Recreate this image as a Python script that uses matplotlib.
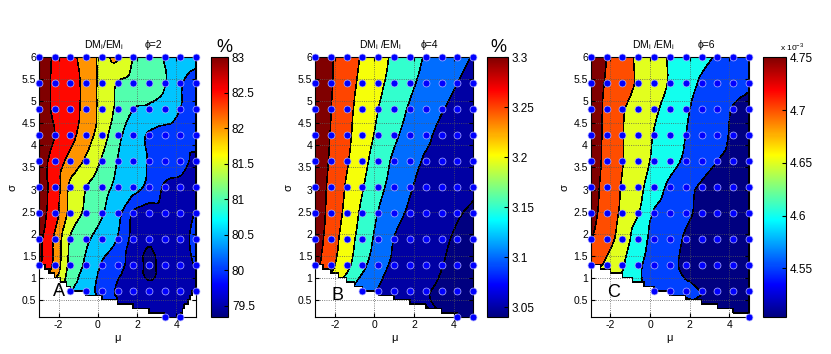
import numpy as np
import matplotlib
matplotlib.use('Agg')
import matplotlib.pyplot as plt
import matplotlib.tri as mtri
from matplotlib.colors import Normalize, LinearSegmentedColormap
from matplotlib.cm import ScalarMappable
from matplotlib.ticker import FormatStrFormatter

plt.rcParams['font.family'] = ['Liberation Sans', 'DejaVu Sans']
plt.rcParams['axes.unicode_minus'] = False
plt.rcParams['mathtext.fontset'] = 'custom'
plt.rcParams['mathtext.rm'] = 'Liberation Sans'

nan = np.nan

# sample grid (rows listed from sigma=6 down to sigma=0.1)
mu = [-3.0, -2.2, -1.4, -0.6, 0.2, 1.0, 1.8, 2.6, 3.4, 4.2, 5.0]
sigma = [6.00, 5.41, 4.82, 4.23, 3.64, 3.05, 2.46, 1.87, 1.28, 0.69, 0.10]

# phi = 2, percent
ratio_phi2 = [
    [83.25, 82.94, 82.65, 82.27, 81.92, 82.05, 81.50, 81.24, 80.98, 80.80, 80.70],
    [83.20, 82.93, 82.68, 82.36, 81.86, 81.48, 81.32, 81.17, 81.02, 80.55, 80.30],
    [83.20, 82.93, 82.68, 82.35, 81.83, 81.40, 81.00, 80.93, 80.85, 80.50, 80.30],
    [83.30, 83.00, 82.65, 82.22, 81.75, 81.13, 80.75, 80.45, 80.30, 80.20, 80.20],
    [83.20, 82.82, 82.32, 81.92, 81.45, 80.99, 80.73, 80.47, 80.30, 80.15, 79.90],
    [83.20, 82.80, 81.90, 81.51, 81.18, 80.90, 80.68, 80.39, 79.95, 79.90, 79.90],
    [83.20, 82.72, 81.84, 81.40, 81.04, 80.65, 79.95, 79.75, 79.85, 79.85, 80.02],
    [83.15, 82.42, 81.45, 81.09, 80.78, 80.48, 79.85, 79.55, 79.80, 79.90, 80.08],
    [83.10, 82.37, 81.35, 80.92, 80.46, 80.13, 79.85, 79.40, 79.70, 79.80, 80.03],
    [nan, nan, 81.05, 80.75, 80.30, 79.95, 79.80, 79.60, 79.70, 79.70, 79.80],
    [nan, nan, nan, nan, nan, nan, nan, nan, 79.70, 79.70, nan],
]

# phi = 4, percent
ratio_phi4 = [
    [3.333, 3.305, 3.275, 3.245, 3.218, 3.191, 3.168, 3.146, 3.129, 3.113, 3.097],
    [3.335, 3.304, 3.270, 3.238, 3.210, 3.184, 3.158, 3.137, 3.119, 3.100, 3.085],
    [3.335, 3.301, 3.264, 3.232, 3.200, 3.171, 3.145, 3.124, 3.103, 3.085, 3.065],
    [3.334, 3.298, 3.261, 3.225, 3.190, 3.158, 3.133, 3.110, 3.087, 3.075, 3.063],
    [3.332, 3.294, 3.255, 3.215, 3.176, 3.142, 3.118, 3.094, 3.080, 3.068, 3.058],
    [3.331, 3.288, 3.245, 3.203, 3.164, 3.132, 3.104, 3.088, 3.075, 3.063, 3.055],
    [3.330, 3.284, 3.237, 3.189, 3.148, 3.116, 3.093, 3.080, 3.067, 3.053, 3.045],
    [3.327, 3.276, 3.225, 3.178, 3.136, 3.099, 3.085, 3.071, 3.057, 3.045, 3.038],
    [3.317, 3.263, 3.213, 3.163, 3.117, 3.092, 3.078, 3.064, 3.051, 3.043, 3.038],
    [nan, nan, nan, 3.115, 3.098, 3.085, 3.068, 3.053, 3.045, 3.040, 3.038],
    [nan, nan, nan, nan, nan, nan, nan, nan, nan, 3.040, 3.036],
]

# phi = 6, in units of 1e-3
ratio_phi6 = [
    [4.775, 4.750, 4.720, 4.692, 4.668, 4.646, 4.629, 4.612, 4.595, 4.578, 4.565],
    [4.773, 4.746, 4.720, 4.694, 4.670, 4.646, 4.620, 4.594, 4.578, 4.565, 4.555],
    [4.777, 4.741, 4.705, 4.680, 4.658, 4.632, 4.606, 4.585, 4.567, 4.548, 4.540],
    [4.776, 4.739, 4.702, 4.675, 4.648, 4.624, 4.600, 4.582, 4.564, 4.545, 4.538],
    [4.773, 4.738, 4.702, 4.671, 4.642, 4.616, 4.592, 4.571, 4.550, 4.540, 4.535],
    [4.770, 4.733, 4.696, 4.663, 4.625, 4.590, 4.562, 4.545, 4.535, 4.530, 4.528],
    [4.766, 4.729, 4.690, 4.652, 4.596, 4.576, 4.557, 4.543, 4.533, 4.528, 4.525],
    [4.752, 4.718, 4.679, 4.622, 4.588, 4.570, 4.546, 4.538, 4.532, 4.528, 4.525],
    [4.720, 4.691, 4.655, 4.608, 4.584, 4.562, 4.541, 4.536, 4.530, 4.526, 4.522],
    [nan, nan, nan, nan, 4.578, 4.566, 4.558, 4.549, 4.535, 4.525, 4.520],
    [nan, nan, nan, nan, nan, nan, nan, nan, nan, nan, 4.515],
]

W, H = 831, 354
fig = plt.figure(figsize=(W / 100, H / 100), dpi=100)


def box(x0, x1, y0, y1):
    return [x0 / W, 1 - y1 / H, (x1 - x0) / W, (y1 - y0) / H]


def ftext(x, y, s, **kw):
    fig.text(x / W, 1 - y / H, s, **kw)


# MATLAB style jet
jet = LinearSegmentedColormap.from_list('mjet', [
    (0.0, (0, 0, 0.5)), (0.125, (0, 0, 1)), (0.375, (0, 1, 1)),
    (0.625, (1, 1, 0)), (0.875, (1, 0, 0)), (1.0, (0.5, 0, 0))], N=256)

gx = np.linspace(-3, 5, 81)
gy = np.linspace(0.1, 6, 60)
GX, GY = np.meshgrid(gx, gy)


def panel(ax_box, cb_box, z, levels, vmin, vmax, cticks):
    ax = fig.add_axes(box(*ax_box))
    cax = fig.add_axes(box(*cb_box))
    Z = np.array(z, dtype=float)[::-1]
    M, S = np.meshgrid(mu, np.array(sigma)[::-1])
    ok = ~np.isnan(Z)
    tri = mtri.Triangulation(M[ok], S[ok])
    interp = mtri.CubicTriInterpolator(tri, Z[ok], kind='geom')
    Zi = interp(GX, GY)
    norm = Normalize(vmin, vmax)
    cols = [jet(norm(max(l, vmin))) for l in levels[:-1]]
    cs = ax.contourf(GX, GY, Zi, levels=levels, colors=cols, corner_mask=False)
    cs.set_edgecolor('k')
    cs.set_linewidth(0.35)
    ax.plot(M[ok], S[ok], 'o', ms=5, mfc='#0000ff', mec='#b4b4ff', mew=0.5,
            clip_on=False, zorder=5)
    ax.set_xlim(-3, 5)
    ax.set_ylim(0.1, 6)
    ax.set_xticks([-2, 0, 2, 4])
    ax.set_yticks(np.arange(0.5, 6.01, 0.5))
    ax.yaxis.set_major_formatter(FormatStrFormatter('%g'))
    ax.set_axisbelow('line')
    ax.grid(True, color='0.35', linestyle=':', linewidth=0.6)
    ax.tick_params(direction='in', length=3, labelsize=7.5, top=True, right=True, pad=2)
    ax.set_xlabel('μ', fontsize=8, labelpad=2)
    ax.set_ylabel('σ', fontsize=8, labelpad=3)
    cb = fig.colorbar(ScalarMappable(norm=norm, cmap=jet), cax=cax)
    cb.set_ticks(cticks)
    cb.ax.yaxis.set_major_formatter(FormatStrFormatter('%g'))
    cb.ax.tick_params(direction='in', length=3, labelsize=8.5, pad=3)
    cb.outline.set_linewidth(0.8)
    return ax


panel((39, 196, 57.3, 317.3), (211, 227.7, 57, 317.3), ratio_phi2,
      [79.2, 79.5, 80, 80.5, 81, 81.5, 82, 82.5, 83, 84], 79.34, 83.0,
      [79.5, 80, 80.5, 81, 81.5, 82, 82.5, 83])
panel((315, 473.3, 57.3, 317.3), (487.3, 507.7, 57.3, 317.3), ratio_phi4,
      [3.02, 3.05, 3.10, 3.15, 3.20, 3.25, 3.30, 3.40], 3.04, 3.30,
      [3.05, 3.1, 3.15, 3.2, 3.25, 3.3])
panel((590.7, 749, 57.3, 317.3), (763.3, 786, 57.3, 317.3), ratio_phi6,
      [4.49, 4.55, 4.60, 4.65, 4.70, 4.75, 4.80], 4.5035, 4.75,
      [4.55, 4.6, 4.65, 4.7, 4.75])

tk = dict(fontsize=7.5, ha='center', va='center')
ftext(104, 45, r'DM$_\mathrm{i}$/EM$_\mathrm{i}$', **tk)
ftext(153, 45, 'ϕ=2', **tk)
ftext(380, 45, r'DM$_\mathrm{i}$ /EM$_\mathrm{i}$', **tk)
ftext(429, 45, 'ϕ=4', **tk)
ftext(653, 45, r'DM$_\mathrm{i}$ /EM$_\mathrm{i}$', **tk)
ftext(706, 45, 'ϕ=6', **tk)

ftext(224, 47, '%', fontsize=13, ha='center', va='center')
ftext(498, 47, '%', fontsize=13, ha='center', va='center')
ftext(780, 53, r'x 10$^{-3}$', fontsize=6, ha='left', va='bottom')

ftext(59, 292, 'A', fontsize=13, ha='center', va='center')
ftext(337.5, 295, 'B', fontsize=13, ha='center', va='center')
ftext(613.5, 292.5, 'C', fontsize=13, ha='center', va='center')

fig.savefig('out.png', dpi=100)
